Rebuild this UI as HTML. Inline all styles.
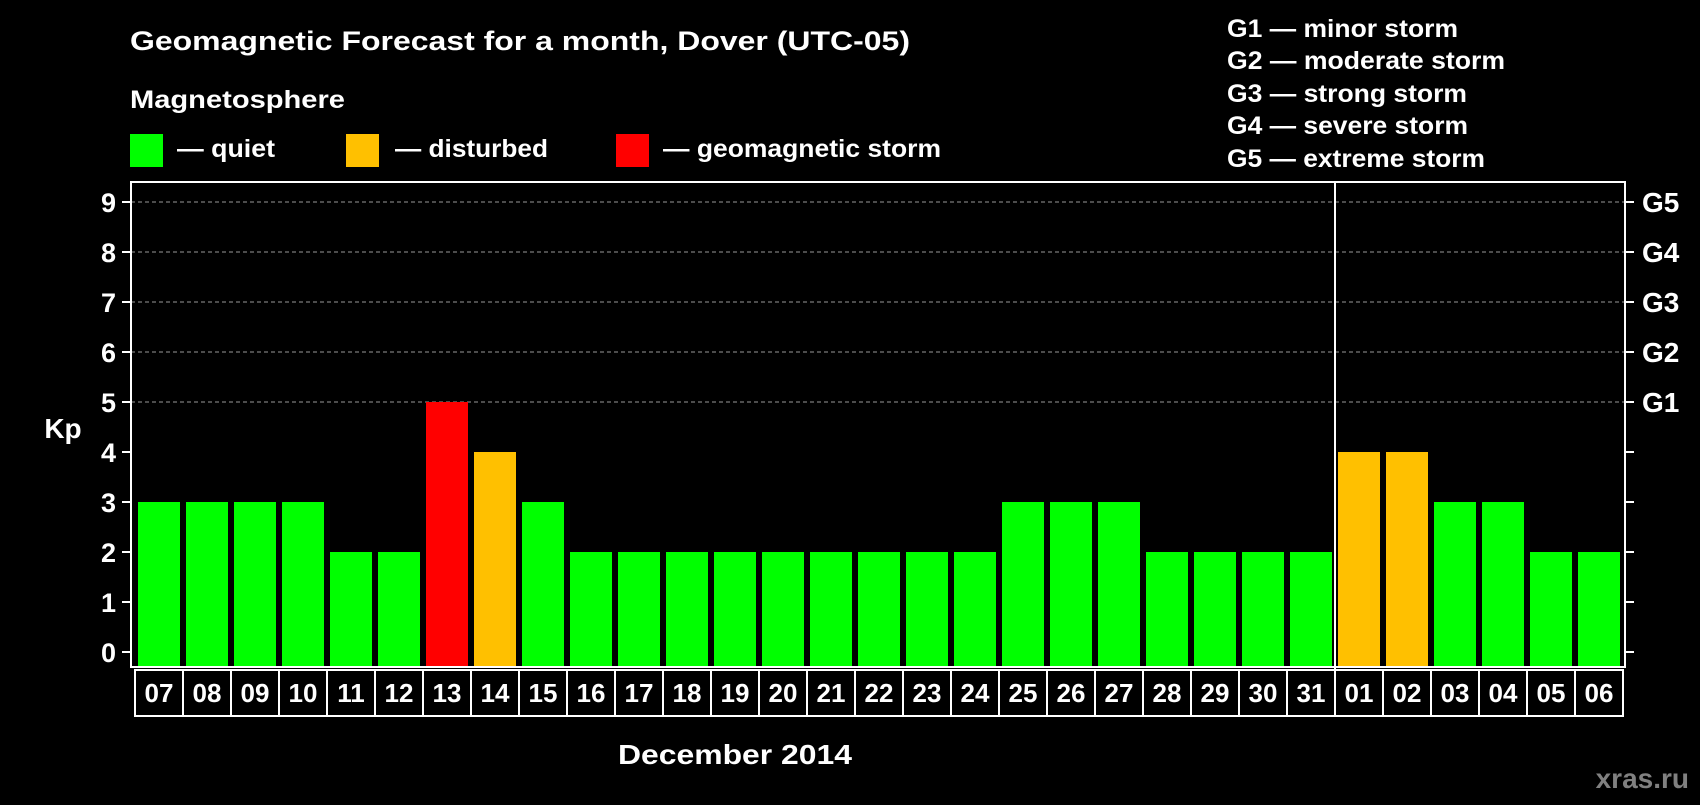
<!DOCTYPE html>
<html><head><meta charset="utf-8"><style>
html,body{margin:0;padding:0;background:#000;}
svg text{font-family:"Liberation Sans",sans-serif;font-weight:bold;fill:#fff;}
</style></head><body>
<svg id="chart" width="1700" height="800" xmlns="http://www.w3.org/2000/svg">
<rect x="0" y="0" width="1700" height="800" fill="#000"/>
<text x="130" y="50" font-size="27" textLength="780" lengthAdjust="spacingAndGlyphs">Geomagnetic Forecast for a month, Dover (UTC-05)</text>
<text x="130" y="108" font-size="25" textLength="215" lengthAdjust="spacingAndGlyphs">Magnetosphere</text>
<rect x="130" y="134" width="33" height="33" fill="#00ff00"/>
<text x="177" y="157" font-size="25" textLength="98" lengthAdjust="spacingAndGlyphs">— quiet</text>
<rect x="346" y="134" width="33" height="33" fill="#ffc000"/>
<text x="395" y="157" font-size="25" textLength="153" lengthAdjust="spacingAndGlyphs">— disturbed</text>
<rect x="616" y="134" width="33" height="33" fill="#ff0000"/>
<text x="663" y="157" font-size="25" textLength="278" lengthAdjust="spacingAndGlyphs">— geomagnetic storm</text>
<g font-size="25">
<text x="1227" y="37" textLength="231" lengthAdjust="spacingAndGlyphs">G1 — minor storm</text>
<text x="1227" y="69" textLength="278" lengthAdjust="spacingAndGlyphs">G2 — moderate storm</text>
<text x="1227" y="102" textLength="240" lengthAdjust="spacingAndGlyphs">G3 — strong storm</text>
<text x="1227" y="134" textLength="241" lengthAdjust="spacingAndGlyphs">G4 — severe storm</text>
<text x="1227" y="167" textLength="258" lengthAdjust="spacingAndGlyphs">G5 — extreme storm</text>
</g>
<text x="63" y="438" font-size="28" text-anchor="middle">Kp</text>
<g id="grid"></g>
<g id="bars"></g>
<g id="axes"></g>
<text x="735" y="764" font-size="28" text-anchor="middle" textLength="234" lengthAdjust="spacingAndGlyphs">December 2014</text>
<text x="1689" y="788" font-size="28" text-anchor="end" style="fill:#808080">xras.ru</text>
</svg>
<script>
const days = ["07","08","09","10","11","12","13","14","15","16","17","18","19","20","21","22","23","24","25","26","27","28","29","30","31","01","02","03","04","05","06"];
const kp = [3,3,3,3,2,2,5,4,3,2,2,2,2,2,2,2,2,2,3,3,3,2,2,2,2,4,4,3,3,2,2];
const yTicks = [0,1,2,3,4,5,6,7,8,9];
const gLabels = ["G1","G2","G3","G4","G5"];
const gLevels = [5,6,7,8,9];
const monthBreakIndex = 25;

const NS="http://www.w3.org/2000/svg";
const L=131,R=1625,T=182,B=667,Y0=652,UNIT=50,X0=135,STEP=48;
const yS=v=>Y0-v*UNIT;
const xS=i=>X0+i*STEP;
function mk(tag,attrs,parent){const e=document.createElementNS(NS,tag);for(const k in attrs)e.setAttribute(k,attrs[k]);parent.appendChild(e);return e;}
const grid=document.getElementById('grid'),bars=document.getElementById('bars'),axes=document.getElementById('axes');

gLevels.forEach(v=>{
  const ln=mk('line',{x1:L,x2:R,y1:yS(v),y2:yS(v),stroke:'#999','stroke-width':1,'stroke-dasharray':'4,3'},grid);
  
  
});
kp.forEach((v,i)=>{
  const c=v>=5?'#ff0000':(v>=4?'#ffc000':'#00ff00');
  const r=mk('rect',{x:xS(i)+3,y:yS(v),width:42,height:B-yS(v),fill:c},bars);
  
  
});
const frame=mk('rect',{x:L,y:T,width:R-L,height:B-T,fill:'none',stroke:'#fff','stroke-width':2},axes);


yTicks.forEach(v=>{
  mk('line',{x1:L-9,x2:L,y1:yS(v),y2:yS(v),stroke:'#fff','stroke-width':2},axes);
  mk('line',{x1:R,x2:R+9,y1:yS(v),y2:yS(v),stroke:'#fff','stroke-width':2},axes);
  const t=mk('text',{x:116,y:yS(v)+10,'font-size':27,'text-anchor':'end'},axes);
  t.textContent=v;
  
  
});
gLabels.forEach((g,i)=>{
  const t=mk('text',{x:1642,y:yS(gLevels[i])+10,'font-size':28},axes);
  t.textContent=g;
  
  
});
days.forEach((d,i)=>{
  const c=mk('rect',{x:xS(i),y:B+3,width:STEP,height:46,fill:'none',stroke:'#fff','stroke-width':2},axes);
  
  
  const t=mk('text',{x:xS(i)+STEP/2,y:B+35,'font-size':26,'text-anchor':'middle'},axes);
  t.textContent=d;
  
  
});
const br=mk('line',{x1:xS(monthBreakIndex),x2:xS(monthBreakIndex),y1:T,y2:B+49,stroke:'#fff','stroke-width':2},axes);


</script>
</body></html>
